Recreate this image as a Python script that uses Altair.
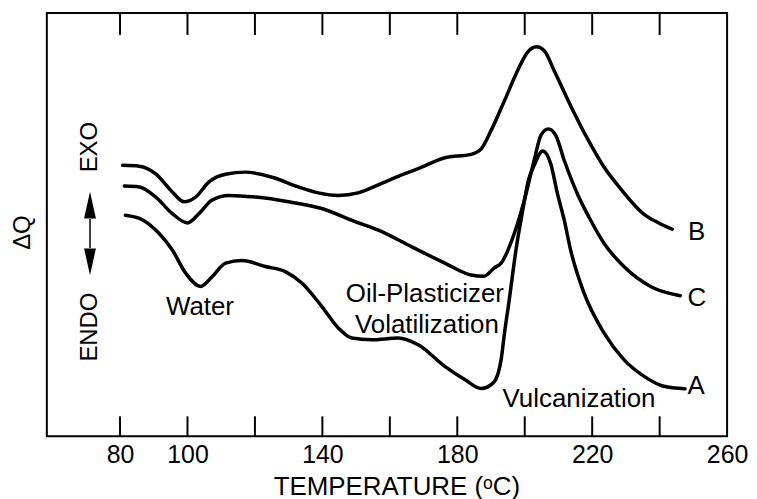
import altair as alt
import pandas as pd

# ---- data (temperature in °C, ΔQ in arbitrary units 0-100) ----
temp_B = [80.8, 85.7, 90.6, 95.5, 99.0, 102.4, 106.4, 111.3, 117.2, 125.1, 132.9, 138.8,
          144.7, 150.6, 156.6, 162.5, 168.4, 176.3, 184.1, 187.1, 190.0, 194.0, 197.9,
          200.8, 203.5, 205.8, 208.7, 213.6, 218.6, 223.5, 228.4, 235.3, 239.2, 243.7]
dq_B = [64.0, 63.8, 62.0, 57.7, 55.4, 56.5, 60.1, 61.9, 62.4, 61.2, 58.9, 57.5,
        56.9, 57.5, 59.4, 61.4, 63.2, 65.8, 66.6, 67.9, 72.2, 79.3, 86.4,
        90.7, 92.0, 91.1, 86.4, 78.1, 70.3, 63.6, 58.5, 52.5, 50.6, 48.9]

temp_C = [81.3, 85.7, 90.6, 95.5, 100.0, 103.4, 107.3, 112.3, 120.2, 130.0, 139.8, 149.7,
          156.6, 166.4, 176.3, 184.1, 187.9, 191.0, 193.0, 196.9, 199.9, 202.8, 204.8,
          207.0, 209.2, 211.7, 215.6, 219.5, 223.5, 229.4, 237.3, 246.1]
dq_C = [59.1, 58.9, 56.5, 52.6, 50.4, 52.6, 55.8, 56.9, 56.5, 55.4, 53.8, 50.7,
        48.7, 44.8, 40.9, 38.1, 37.8, 39.8, 40.9, 47.9, 55.8, 65.2, 71.1,
        72.6, 71.1, 65.2, 57.3, 51.1, 45.6, 40.1, 35.4, 33.2]

temp_A = [81.6, 86.7, 91.6, 95.5, 99.5, 103.9, 107.3, 111.3, 116.2, 123.1, 129.0, 133.9,
          139.8, 144.7, 148.7, 154.6, 162.5, 168.4, 176.3, 182.2, 187.1, 190.5, 192.0,
          193.0, 194.0, 195.4, 197.4, 199.4, 201.1, 202.8, 205.3, 207.7, 209.7, 211.7,
          213.6, 217.6, 223.5, 229.4, 235.3, 241.2, 247.5]
dq_A = [52.2, 51.1, 47.9, 44.0, 38.5, 35.4, 37.7, 40.9, 41.5, 40.1, 38.9, 36.2,
        30.7, 25.6, 23.2, 22.8, 23.2, 21.6, 16.5, 13.4, 11.3, 12.5, 14.6,
        18.1, 24.4, 32.2, 44.0, 53.4, 60.5, 64.0, 67.4, 64.4, 57.3, 51.1,
        44.0, 33.8, 24.4, 18.1, 14.2, 11.8, 11.2]

tick_temps = [80, 100, 120, 140, 160, 180, 200, 220, 240]
label_temps = [80, 100, 140, 180, 220, 260]

ann_text = ["Water", "Oil-Plasticizer", "Volatilization", "Vulcanization", "B", "C", "A"]
ann_T = [103.7, 170.4, 171.0, 216.1, 251.0, 251.0, 250.8]
ann_Q = [28.7, 31.8, 24.4, 6.8, 46.4, 30.7, 9.9]

side_text = ["EXO", "ENDO"]
side_T = [71.1, 71.1]
side_Q = [68.3, 25.8]

arrow_T = [71.1]
arrow_Q1 = [51.3]
arrow_Q2 = [44.5]
head_up_Q = [54.6]
head_down_Q = [41.2]

# ---- tables ----
curves = pd.concat([
    pd.DataFrame({"T": temp_A, "Q": dq_A, "s": "A"}),
    pd.DataFrame({"T": temp_B, "Q": dq_B, "s": "B"}),
    pd.DataFrame({"T": temp_C, "Q": dq_C, "s": "C"}),
])
ticks_df = pd.DataFrame({"T": tick_temps})
ann_df = pd.DataFrame({"text": ann_text, "T": ann_T, "Q": ann_Q})
side_df = pd.DataFrame({"text": side_text, "T": side_T, "Q": side_Q})
arrow_df = pd.DataFrame({"T": arrow_T, "Q1": arrow_Q1, "Q2": arrow_Q2})
up_df = pd.DataFrame({"T": arrow_T, "Q": head_up_Q})
down_df = pd.DataFrame({"T": arrow_T, "Q": head_down_Q})

FONT = "Liberation Sans"
W, H = 683, 425

xscale = alt.Scale(domain=[58.3, 260], nice=False, zero=False)
yscale = alt.Scale(domain=[0, 100], nice=False, zero=False)

x_enc = alt.X("T:Q", scale=xscale, axis=alt.Axis(
    values=label_temps, grid=False, ticks=False, tickSize=0, domain=False,
    labelFontSize=25, labelFont=FONT, labelColor="black", labelPadding=6,
    title="TEMPERATURE (ᵒC)", titleFont=FONT, titleFontSize=26, titleFontWeight="normal",
    titleColor="black", titleX=351, titleY=58, titleAlign="center",
    titleBaseline="alphabetic", labelFlush=False, labelOverlap=False))
y_enc = alt.Y("Q:Q", scale=yscale, axis=alt.Axis(
    labels=False, ticks=False, domain=False, grid=False,
    title="ΔQ", titleFont=FONT, titleFontSize=24, titleFontWeight="normal",
    titleColor="black", titleAngle=270, titleX=-24, titleY=220,
    titleAlign="center", titleBaseline="middle"))

lines = alt.Chart(curves).mark_line(
    color="black", strokeWidth=3.5, interpolate="monotone", strokeCap="round",
    strokeJoin="round").encode(x=x_enc, y=y_enc, detail="s:N")

top_ticks = alt.Chart(ticks_df).mark_rule(color="black", strokeWidth=2).encode(
    x=alt.X("T:Q", scale=xscale), y=alt.value(0), y2=alt.value(22))
bot_ticks = alt.Chart(ticks_df).mark_rule(color="black", strokeWidth=2).encode(
    x=alt.X("T:Q", scale=xscale), y=alt.value(H - 20), y2=alt.value(H))

ann = alt.Chart(ann_df).mark_text(
    font=FONT, fontSize=26, color="black", align="center", baseline="alphabetic").encode(
    x=alt.X("T:Q", scale=xscale), y=alt.Y("Q:Q", scale=yscale), text="text:N")

side = alt.Chart(side_df).mark_text(
    font=FONT, fontSize=24, color="black", align="center", baseline="middle",
    angle=270).encode(
    x=alt.X("T:Q", scale=xscale), y=alt.Y("Q:Q", scale=yscale), text="text:N")

shaft = alt.Chart(arrow_df).mark_rule(color="black", strokeWidth=1.5).encode(
    x=alt.X("T:Q", scale=xscale), y=alt.Y("Q1:Q", scale=yscale), y2="Q2:Q")
head_up = alt.Chart(up_df).mark_point(
    shape="M0,-1L0.44,1L-0.44,1Z", filled=True, color="black", opacity=1,
    size=729, strokeWidth=0).encode(
    x=alt.X("T:Q", scale=xscale), y=alt.Y("Q:Q", scale=yscale))
head_down = alt.Chart(down_df).mark_point(
    shape="M0,1L0.44,-1L-0.44,-1Z", filled=True, color="black", opacity=1,
    size=729, strokeWidth=0).encode(
    x=alt.X("T:Q", scale=xscale), y=alt.Y("Q:Q", scale=yscale))

chart = alt.layer(lines, top_ticks, bot_ticks, ann, side, shaft, head_up, head_down).properties(
    width=W, height=H,
    autosize=alt.AutoSizeParams(type="none"),
    padding={"left": 39, "top": 4, "right": 22, "bottom": 62},
    background="white",
).configure_view(stroke="black", strokeWidth=2)

chart.save("out.html", embed_options={"renderer": "svg", "actions": False})
